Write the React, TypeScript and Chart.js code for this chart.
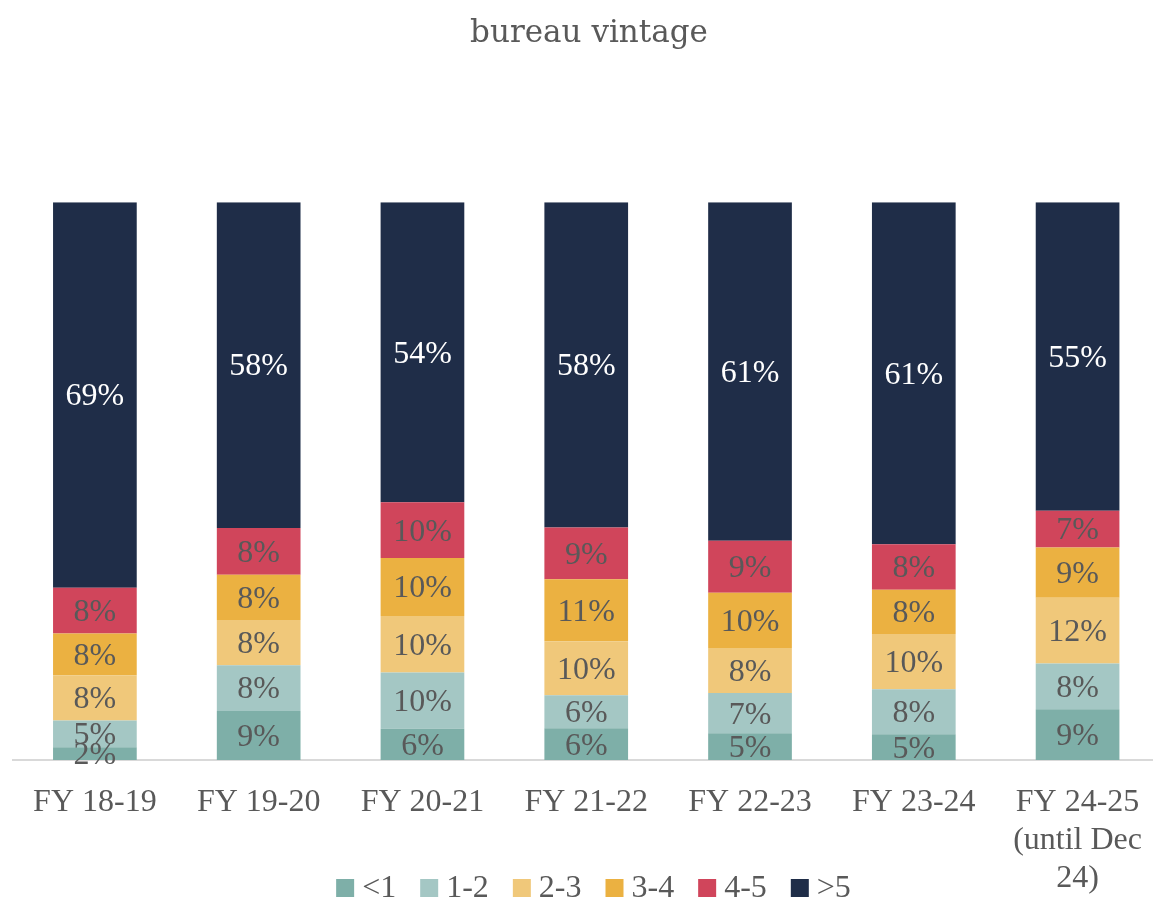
import React, { useEffect, useRef } from "react";
import { Chart, registerables } from "chart.js";

Chart.register(...registerables);

const categories: (string | string[])[] = [
  "FY 18-19",
  "FY 19-20",
  "FY 20-21",
  "FY 21-22",
  "FY 22-23",
  "FY 23-24",
  ["FY 24-25", "(until Dec", "24)"],
];

const seriesNames = ["<1", "1-2", "2-3", "3-4", "4-5", ">5"];
const lt1 = [2.3, 8.8, 5.6, 5.7, 4.8, 4.6, 9.1];
const y1to2 = [4.8, 8.2, 10.1, 5.9, 7.2, 8.1, 8.2];
const y2to3 = [8.1, 8.1, 10.1, 9.7, 8.1, 9.9, 11.8];
const y3to4 = [7.5, 8.1, 10.4, 11.1, 9.9, 7.9, 9.0];
const y4to5 = [8.2, 8.4, 10.0, 9.3, 9.3, 8.2, 6.6];
const gt5 = [69.1, 58.4, 53.8, 58.3, 60.7, 61.3, 55.3];

const colors = ["#7eafa8", "#a4c7c4", "#f0c87a", "#ebb141", "#d0455b", "#1f2d48"];
const labelColors = ["#595959", "#595959", "#595959", "#595959", "#595959", "#ffffff"];

const SERIF = "'Liberation Serif', 'Times New Roman', serif";
const TEXT = "#595959";

const dataLabelPlugin = {
  id: "segLabels",
  afterDatasetsDraw(chart: any) {
    const ctx = chart.ctx;
    ctx.save();
    ctx.font = `32px ${SERIF}`;
    ctx.textAlign = "center";
    ctx.textBaseline = "middle";
    chart.data.datasets.forEach((ds: any, di: number) => {
      const meta = chart.getDatasetMeta(di);
      meta.data.forEach((bar: any, i: number) => {
        const v = ds.data[i];
        const cy = (bar.y + bar.base) / 2 + 2;
        ctx.fillStyle = labelColors[di];
        ctx.fillText(`${Math.round(v)}%`, bar.x, cy);
      });
    });
    ctx.restore();
  },
};

const legendPlugin = {
  id: "customLegend",
  afterDraw(chart: any) {
    const ctx = chart.ctx;
    ctx.save();
    ctx.font = `32px ${SERIF}`;
    ctx.textBaseline = "middle";
    const box = 18;
    const gap = 8;
    const itemGap = 24;
    const widths = seriesNames.map((n) => box + gap + ctx.measureText(n).width);
    const total = widths.reduce((a, b) => a + b, 0) + itemGap * (seriesNames.length - 1);
    let x = 1153 / 2 - total / 2 + 17;
    const y = 888;
    seriesNames.forEach((n, i) => {
      ctx.fillStyle = colors[i];
      ctx.fillRect(x, y - box / 2, box, box);
      ctx.fillStyle = TEXT;
      ctx.textAlign = "left";
      ctx.fillText(n, x + box + gap, y + 1);
      x += widths[i] + itemGap;
    });
    ctx.restore();
  },
};

export default function App() {
  const ref = useRef<HTMLCanvasElement>(null);
  useEffect(() => {
    if (!ref.current) return;
    const values = [lt1, y1to2, y2to3, y3to4, y4to5, gt5];
    const chart = new Chart(ref.current, {
      type: "bar",
      data: {
        labels: categories,
        datasets: seriesNames.map((name, i) => ({
          label: name,
          data: values[i],
          backgroundColor: colors[i],
          borderWidth: 0,
          categoryPercentage: 1,
          barPercentage: 0.511,
        })),
      },
      options: {
        animation: false,
        responsive: false,
        layout: { padding: { left: 13, right: 0, top: 0, bottom: 0 } },
        plugins: {
          legend: { display: false },
          tooltip: { enabled: false },
          title: {
            display: true,
            text: "bureau vintage",
            color: TEXT,
            font: { family: "'DejaVu Serif', serif", size: 31, weight: "normal", lineHeight: 1.2 },
            padding: { top: 15, bottom: 150 },
          },
        },
        scales: {
          x: {
            stacked: true,
            grid: { display: false, drawTicks: false },
            border: { display: true, color: "#d9d9d9", width: 2 },
            ticks: {
              color: TEXT,
              font: { family: SERIF, size: 32, lineHeight: 1.2 },
              padding: 23,
              maxRotation: 0,
              autoSkip: false,
            },
            afterFit: (scale: any) => {
              scale.height = 148;
            },
          },
          y: {
            stacked: true,
            display: false,
            min: 0,
            max: 100,
          },
        },
      },
      plugins: [dataLabelPlugin, legendPlugin],
    });
    return () => chart.destroy();
  }, []);
  return (
    <div style={{ position: "absolute", left: 0, top: 0, width: 1153, height: 908, overflow: "hidden", background: "#fff" }}>
      <canvas ref={ref} width={1165} height={908} style={{ display: "block" }} />
    </div>
  );
}
